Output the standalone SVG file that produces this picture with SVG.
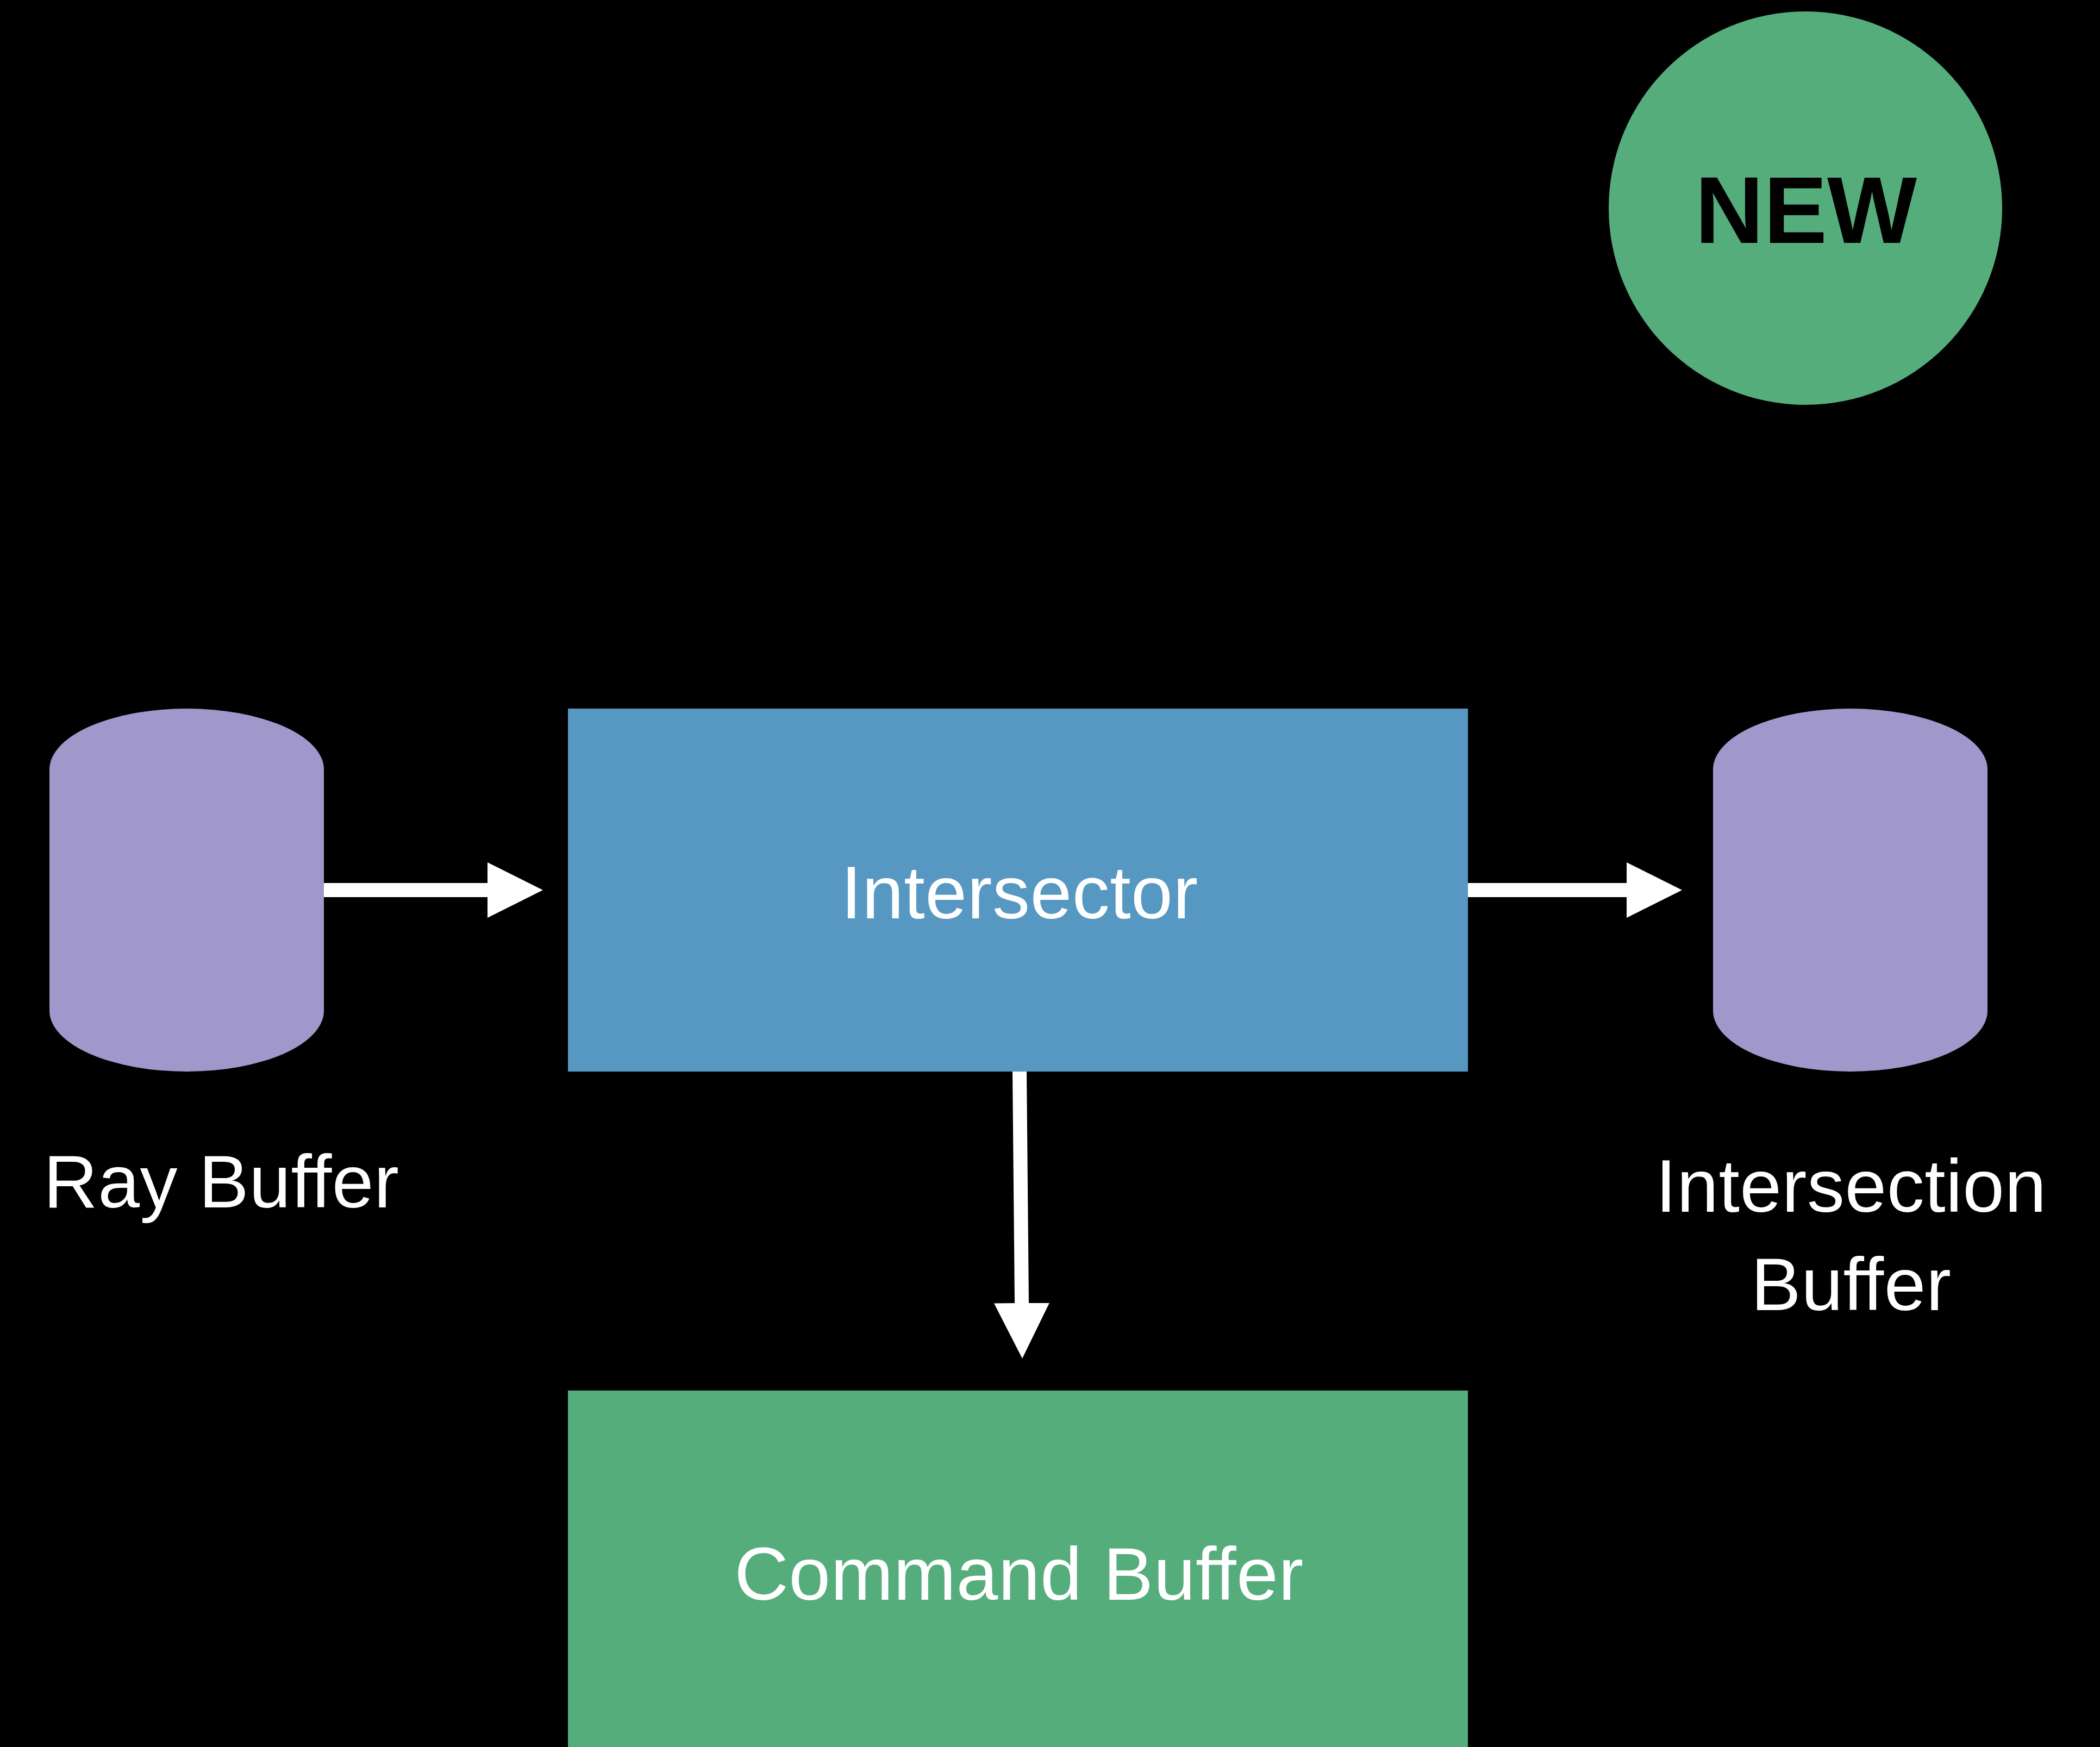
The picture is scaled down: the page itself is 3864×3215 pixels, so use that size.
<svg xmlns="http://www.w3.org/2000/svg" width="3864" height="3215" viewBox="0 0 3864 3215">
<style>
.bg{fill:#000000}
.cyl{fill:#a098cb}
.proc{fill:#5698c2}
.cmd{fill:#55ad7c}
.badge{fill:#55ad7c}
.lbl{font-family:"Liberation Sans",Arial,sans-serif;font-size:138px;fill:#ffffff;font-variant-ligatures:none;font-feature-settings:"liga" 0;letter-spacing:0.5px}
.badgetxt{font-family:"Liberation Sans",Arial,sans-serif;font-size:175px;font-weight:bold;fill:#000000}
.conn{stroke:#ffffff;stroke-width:26;fill:none}
</style>
<defs>
<marker id="ah" markerUnits="userSpaceOnUse" markerWidth="104" markerHeight="104" refX="0" refY="51" orient="auto" viewBox="0 0 104 104">
<path d="M0,0 L102,51 L0,102 Z" fill="#ffffff"/>
</marker>
</defs>
<rect class="bg" x="0" y="0" width="3864" height="3215"/>

<g id="badge-new">
<circle class="badge" cx="3322" cy="383" r="362"/>
<text class="badgetxt" x="3323" y="447" text-anchor="middle">NEW</text>
</g>

<g id="ray-buffer">
<path class="cyl" d="M91,1416 A252.5,112 0 0 1 596,1416 L596,1860 A252.5,112 0 0 1 91,1860 Z"/>
<text class="lbl" x="80" y="2222">Ray Buffer</text>
</g>

<g id="intersector">
<rect class="proc" x="1045" y="1304" width="1656" height="668"/>
<text class="lbl" x="1876" y="1690" text-anchor="middle">Intersector</text>
</g>

<g id="intersection-buffer">
<path class="cyl" d="M3152,1416 A252.5,112 0 0 1 3657,1416 L3657,1860 A252.5,112 0 0 1 3152,1860 Z"/>
<text class="lbl" x="3406" y="2230" text-anchor="middle">Intersection</text>
<text class="lbl" x="3406" y="2411" text-anchor="middle">Buffer</text>
</g>

<g id="command-buffer">
<rect class="cmd" x="1045" y="2559" width="1656" height="700"/>
<text class="lbl" x="1875" y="2944" text-anchor="middle">Command Buffer</text>
</g>

<g id="connectors">
<line class="conn" x1="596" y1="1638" x2="897" y2="1638" marker-end="url(#ah)"/>
<line class="conn" x1="2701" y1="1638" x2="2993" y2="1638" marker-end="url(#ah)"/>
<line class="conn" x1="1876" y1="1972" x2="1880" y2="2398" marker-end="url(#ah)"/>
</g>
</svg>
